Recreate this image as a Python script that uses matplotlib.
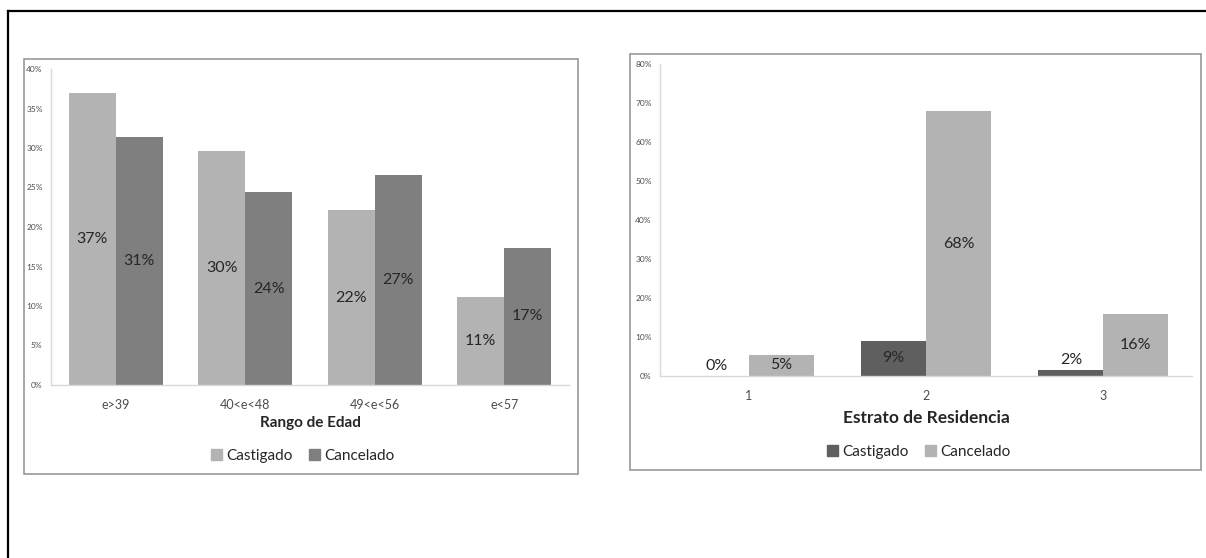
import matplotlib
matplotlib.use("Agg")
import matplotlib.pyplot as plt
import numpy as np
from matplotlib.patches import Rectangle, Patch
from matplotlib.lines import Line2D
from matplotlib.ticker import PercentFormatter

# ------------------------------------------------------------
# data
# ------------------------------------------------------------
edad_labels = ["e>39", "40<e<48", "49<e<56", "e<57"]
edad_castigado = [37.0, 29.6, 22.1, 11.1]
edad_cancelado = [31.4, 24.4, 26.6, 17.4]

estrato_labels = ["1", "2", "3"]
estrato_castigado = [0.0, 9.0, 1.6]
estrato_cancelado = [5.4, 67.9, 16.0]

series_names = ["Castigado", "Cancelado"]

# ------------------------------------------------------------
# style
# ------------------------------------------------------------
plt.rcParams["font.family"] = ["Lato", "DejaVu Sans"]
LIGHT = "#b3b3b3"
MID = "#7f7f7f"
DARK = "#5f5f5f"
TEXT = "#262626"
TICK = "#4d4d4d"
FRAME = "#8f8f8f"
AXIS = "#d9d9d9"

W, H = 1206, 558
fig = plt.figure(figsize=(W / 100, H / 100), dpi=100)


def rect(x0, y0, x1, y1):
    # pixel box (top-left origin) -> figure fraction
    return [x0 / W, 1 - y1 / H, (x1 - x0) / W, (y1 - y0) / H]


def frame(x0, y0, x1, y1):
    r = rect(x0, y0, x1, y1)
    fig.patches.append(Rectangle((r[0], r[1]), r[2], r[3], transform=fig.transFigure,
                                 fill=False, edgecolor=FRAME, linewidth=1.1))


def style_axes(ax, ymax, step):
    ax.set_ylim(0, ymax)
    ax.set_yticks(np.arange(0, ymax + 0.1, step))
    ax.yaxis.set_major_formatter(PercentFormatter(xmax=100, decimals=0))
    for s in ["top", "right"]:
        ax.spines[s].set_visible(False)
    for s in ["left", "bottom"]:
        ax.spines[s].set_color(AXIS)
        ax.spines[s].set_linewidth(1.0)
    ax.tick_params(axis="y", length=0, labelsize=6, colors=TICK, pad=6)
    ax.tick_params(axis="x", length=0, labelsize=9, colors=TICK, pad=10)


def bar_labels(ax, xs, vals, small=3.0):
    for x, v in zip(xs, vals):
        txt = "{:.0f}%".format(v)
        if v < small:
            ax.annotate(txt, (x, v), xytext=(0, 2), textcoords="offset points",
                        ha="center", va="bottom", fontsize=11.5, color=TEXT)
        else:
            ax.text(x, v / 2, txt, ha="center", va="center", fontsize=11.5, color=TEXT)


# outer page border (top and left only)
fig.lines.append(Line2D([8 / W, 1], [1 - 11 / H, 1 - 11 / H], transform=fig.transFigure,
                        color="black", linewidth=1.6))
fig.lines.append(Line2D([8 / W, 8 / W], [0, 1 - 11 / H], transform=fig.transFigure,
                        color="black", linewidth=1.6))

# ------------------------------------------------------------
# left chart: Rango de Edad
# ------------------------------------------------------------
frame(24, 59, 578, 474)
ax1 = fig.add_axes(rect(51, 69, 569, 385))
x1 = np.arange(len(edad_labels))
bw1 = 0.363
ax1.bar(x1 - bw1 / 2, edad_castigado, bw1, color=LIGHT)
ax1.bar(x1 + bw1 / 2, edad_cancelado, bw1, color=MID)
ax1.set_xlim(-0.5, len(edad_labels) - 0.5)
ax1.set_xticks(x1)
ax1.set_xticklabels(edad_labels)
style_axes(ax1, 40, 5)
bar_labels(ax1, x1 - bw1 / 2, edad_castigado)
bar_labels(ax1, x1 + bw1 / 2, edad_cancelado)

fig.text(310 / W, 1 - 423 / H, "Rango de Edad", ha="center", va="center",
         fontsize=11, fontweight="bold", color=TEXT)
fig.legend(handles=[Patch(color=LIGHT, label=series_names[0]),
                    Patch(color=MID, label=series_names[1])],
           loc="center", bbox_to_anchor=(303 / W, 1 - 456 / H), ncol=2, frameon=False,
           fontsize=11, handlelength=0.7, handleheight=0.7, handletextpad=0.3,
           columnspacing=1.1, labelcolor=TEXT)

# ------------------------------------------------------------
# right chart: Estrato de Residencia
# ------------------------------------------------------------
frame(630, 54, 1201, 470)
ax2 = fig.add_axes(rect(660, 64, 1192, 376))
x2 = np.arange(len(estrato_labels))
bw2 = 0.366
ax2.bar(x2 - bw2 / 2, estrato_castigado, bw2, color=DARK)
ax2.bar(x2 + bw2 / 2, estrato_cancelado, bw2, color=LIGHT)
ax2.set_xlim(-0.5, len(estrato_labels) - 0.5)
ax2.set_xticks(x2)
ax2.set_xticklabels(estrato_labels)
style_axes(ax2, 80, 10)
bar_labels(ax2, x2 - bw2 / 2, estrato_castigado)
bar_labels(ax2, x2 + bw2 / 2, estrato_cancelado)

fig.text(926 / W, 1 - 418 / H, "Estrato de Residencia", ha="center", va="center",
         fontsize=12.5, fontweight="bold", color=TEXT)
fig.legend(handles=[Patch(color=DARK, label=series_names[0]),
                    Patch(color=LIGHT, label=series_names[1])],
           loc="center", bbox_to_anchor=(919 / W, 1 - 452 / H), ncol=2, frameon=False,
           fontsize=11, handlelength=0.7, handleheight=0.7, handletextpad=0.3,
           columnspacing=1.1, labelcolor=TEXT)

fig.savefig("out.png", dpi=100, facecolor="white")
